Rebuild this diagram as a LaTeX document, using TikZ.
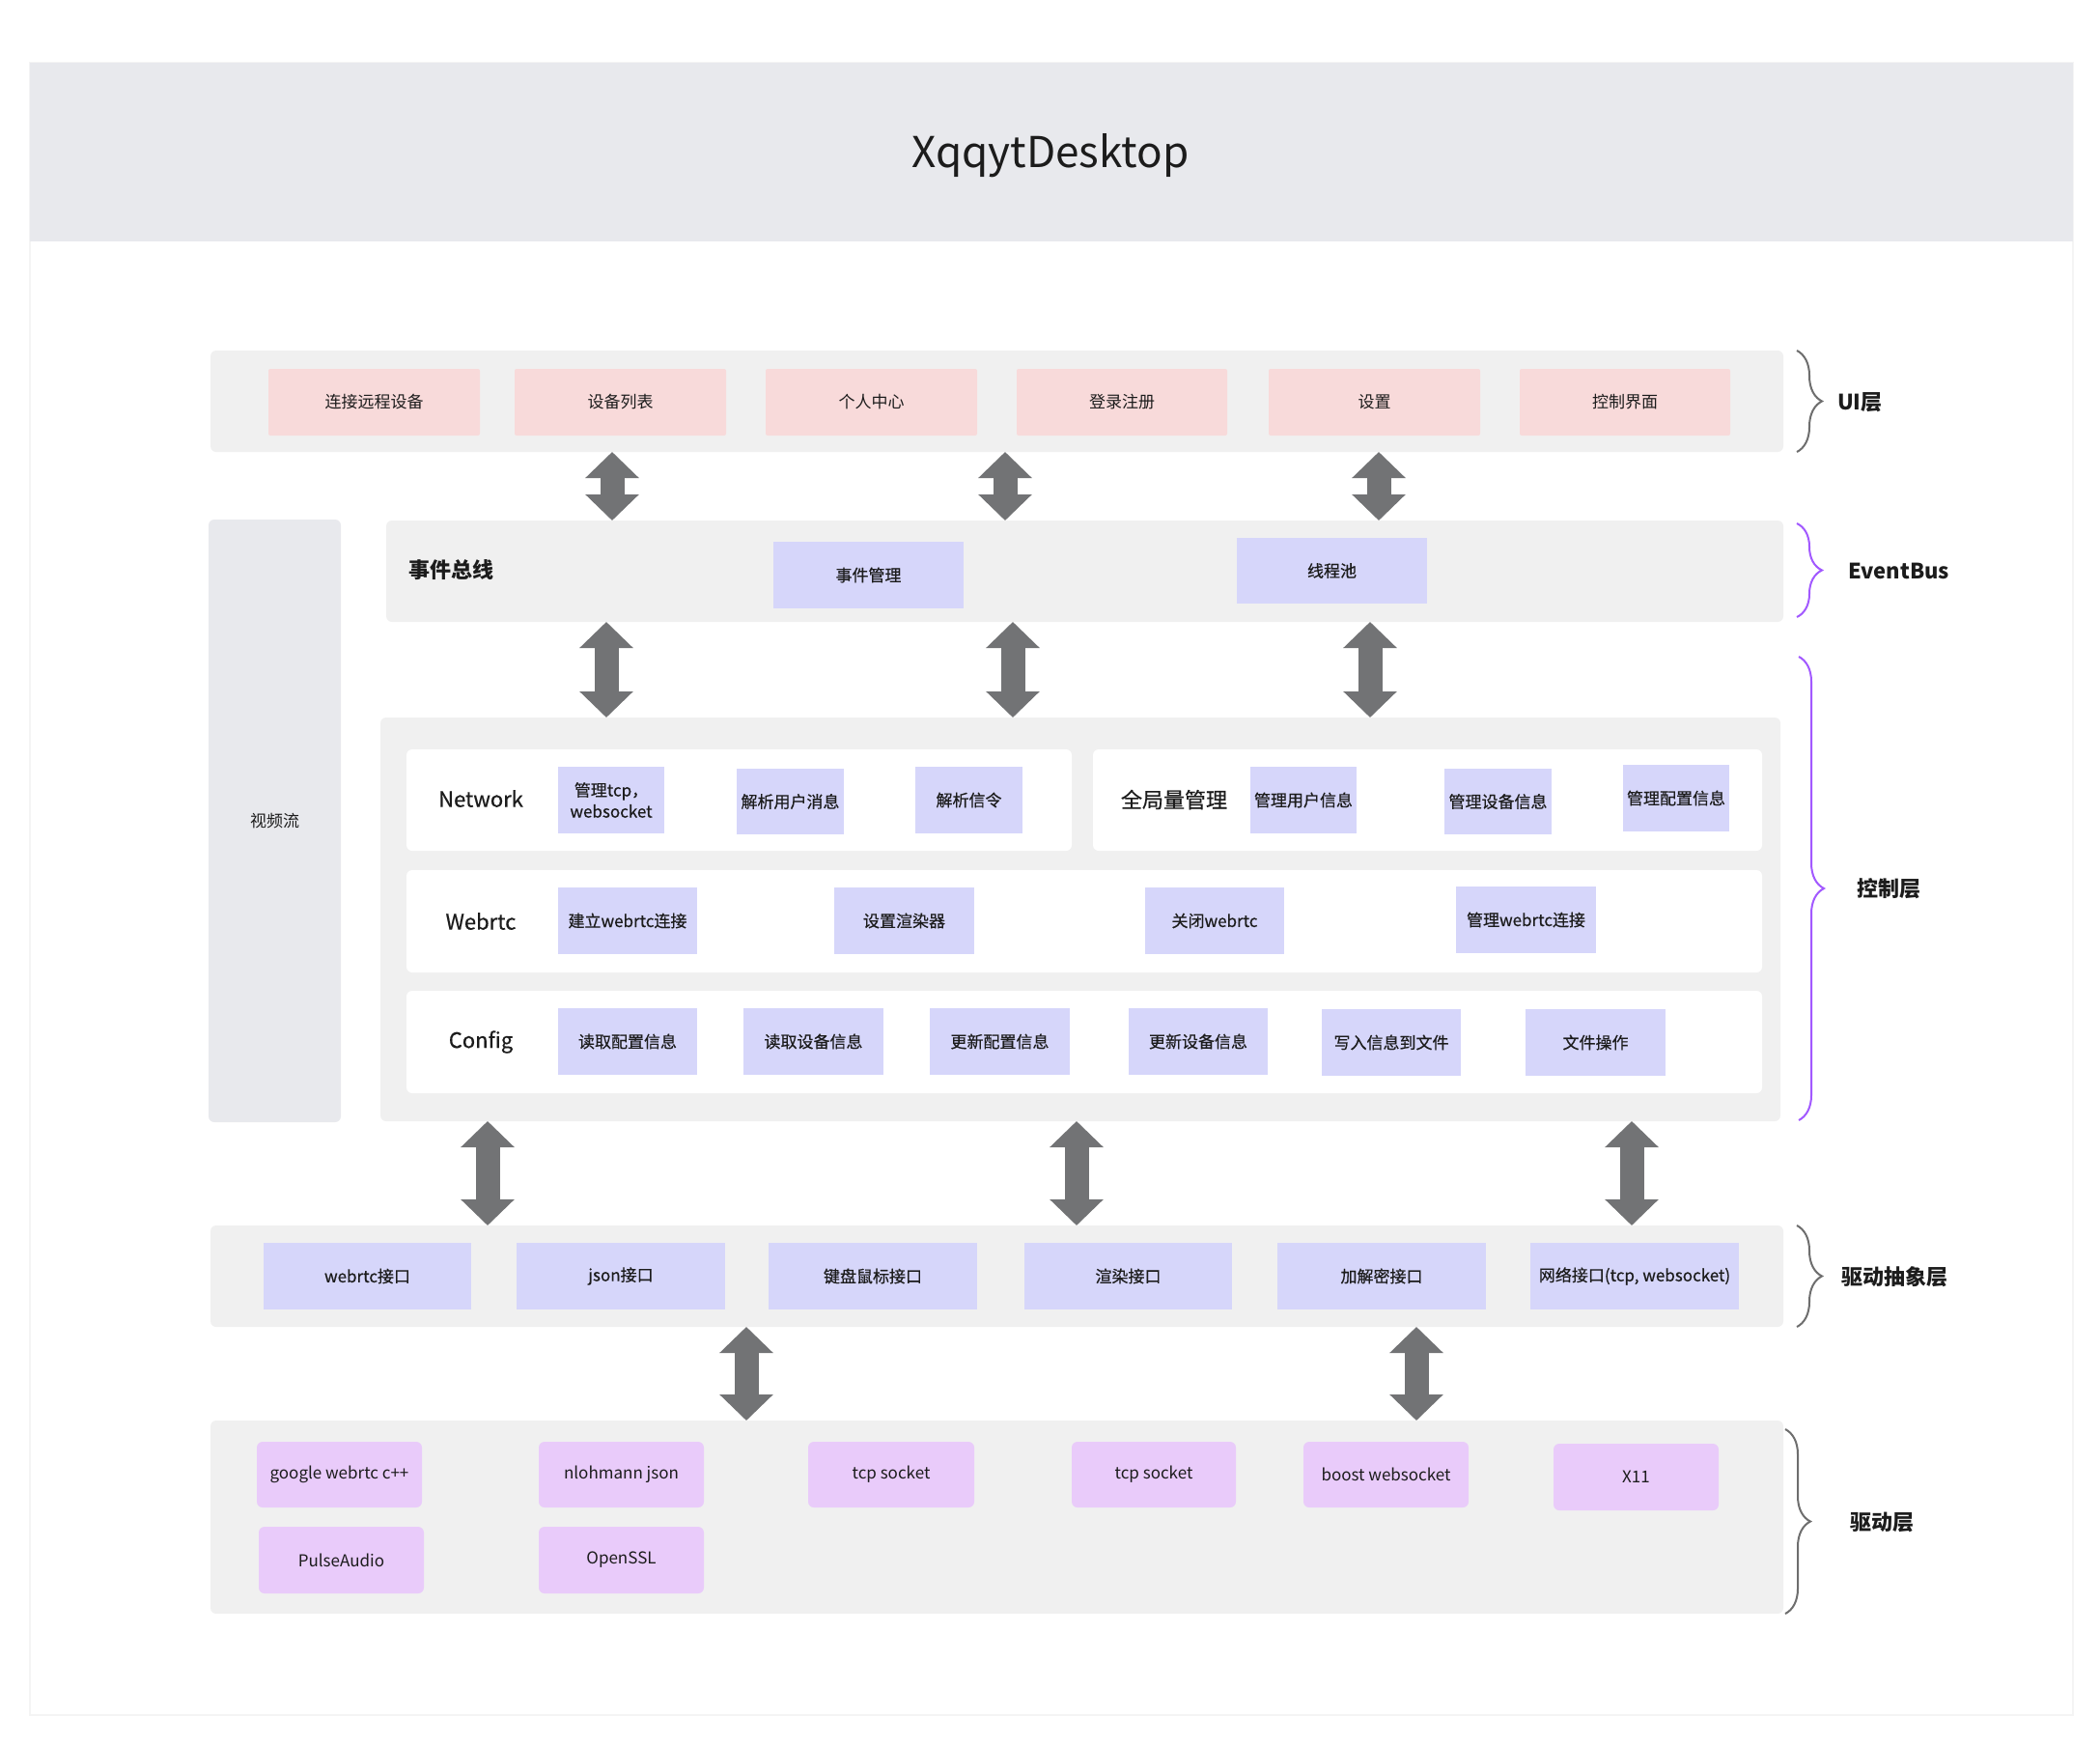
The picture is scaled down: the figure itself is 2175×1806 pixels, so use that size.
\documentclass[tikz,border=0pt]{standalone}
\usepackage{fontspec}
\setmainfont{Noto Sans CJK SC}
\newfontfamily\medfont[FakeBold=0.5]{Noto Sans CJK SC}
\usetikzlibrary{arrows.meta,decorations.pathreplacing}
\definecolor{titlebg}{HTML}{E8E9ED}
\definecolor{bandbg}{HTML}{F0F0F0}
\definecolor{pinkc}{HTML}{F8DADA}
\definecolor{lavc}{HTML}{D6D6FA}
\definecolor{drvc}{HTML}{E9CBFA}
\definecolor{arrc}{HTML}{727375}
\definecolor{purp}{HTML}{A259FF}
\definecolor{braceg}{HTML}{6E6E6E}
\definecolor{txt}{HTML}{1C1C1C}
\definecolor{frame}{HTML}{F4F4F4}
\newcommand\bx[7]{\node[#1, minimum width={#5pt-#3pt}, minimum height={#6pt-#4pt}] (#2) at ({(#3+#5)/2},{(#4+#6)/2}) {#7};}
\tikzset{
  base/.style={inner sep=0pt, outer sep=0pt, text=txt, align=center},
  band/.style={base, fill=bandbg, rounded corners=6pt},
  pinkbox/.style={base, fill=pinkc, rounded corners=2pt, font=\fontsize{17}{20}\selectfont},
  lavbox/.style={base, fill=lavc, font=\medfont\fontsize{17}{22}\selectfont},
  drvbox/.style={base, fill=drvc, rounded corners=6pt, font=\fontsize{17}{20}\selectfont},
  rowbox/.style={base, fill=white, rounded corners=6pt},
  rowlabel/.style={base, font=\medfont\fontsize{22}{26}\selectfont},
  layerlabel/.style={base, anchor=west, font=\bfseries\fontsize{22}{26}\selectfont},
  bigarrow/.style={draw=arrc, line width=25pt, {Triangle[width=54pt,length=27pt]}-{Triangle[width=54pt,length=27pt]}, arrc},
  brc/.style={decorate, decoration={brace, amplitude=26pt}, line width=2pt},
}
\begin{document}
\begin{tikzpicture}[x=1pt,y=-1pt]
\useasboundingbox (0,0) rectangle (2175,1806);
\fill[white] (0,0) rectangle (2175,1806);
\draw[frame, line width=1.5pt] (31,65) rectangle (2147,1776);
% title
\bx{base, fill=titlebg}{title}{31}{65}{2147}{250}{}
\node[base, font=\fontsize{44}{50}\selectfont] (titletext) at (1088,161) {XqqytDesktop};
% bands
\bx{band}{ui}{218}{363}{1847}{468}{}
\bx{band}{eb}{400}{539}{1847}{644}{}
\bx{band, fill=titlebg}{video}{216}{538}{353}{1162}{\fontsize{17}{20}\selectfont 视频流}
\bx{band}{ctrl}{394}{743}{1844}{1161}{}
\bx{band}{da}{218}{1269}{1847}{1374}{}
\bx{band}{drv}{218}{1471}{1847}{1671}{}
% UI layer
\bx{pinkbox}{u1}{278}{382}{497}{451}{连接远程设备}
\bx{pinkbox}{u2}{533}{382}{752}{451}{设备列表}
\bx{pinkbox}{u3}{793}{382}{1012}{451}{个人中心}
\bx{pinkbox}{u4}{1053}{382}{1271}{451}{登录注册}
\bx{pinkbox}{u5}{1314}{382}{1533}{451}{设置}
\bx{pinkbox}{u6}{1574}{382}{1792}{451}{控制界面}
% EventBus
\node[base, anchor=west, font=\bfseries\fontsize{22}{26}\selectfont] (ebl) at (423,590) {事件总线};
\bx{lavbox}{e1}{801}{561}{998}{630}{事件管理}
\bx{lavbox}{e2}{1281}{557}{1478}{625}{线程池}
% control rows
\bx{rowbox}{rnet}{421}{776}{1110}{881}{}
\bx{rowbox}{rglob}{1132}{776}{1825}{881}{}
\bx{rowbox}{rweb}{421}{901}{1825}{1007}{}
\bx{rowbox}{rcfg}{421}{1026}{1825}{1132}{}
\node[rowlabel] (lnet) at (498,827) {Network};
\node[rowlabel] (lweb) at (498,954) {Webrtc};
\node[rowlabel] (lcfg) at (498,1079) {Config};
\node[rowlabel] (lglob) at (1216,828) {全局量管理};
\bx{lavbox}{n1}{578}{794}{688}{863}{管理tcp，\\websocket}
\bx{lavbox}{n2}{763}{796}{874}{864}{解析用户消息}
\bx{lavbox}{n3}{948}{794}{1059}{863}{解析信令}
\bx{lavbox}{g1}{1295}{794}{1405}{863}{管理用户信息}
\bx{lavbox}{g2}{1496}{796}{1607}{864}{管理设备信息}
\bx{lavbox}{g3}{1681}{792}{1791}{861}{管理配置信息}
\bx{lavbox}{w1}{578}{919}{722}{988}{建立webrtc连接}
\bx{lavbox}{w2}{864}{919}{1009}{988}{设置渲染器}
\bx{lavbox}{w3}{1186}{919}{1330}{988}{关闭webrtc}
\bx{lavbox}{w4}{1508}{918}{1653}{987}{管理webrtc连接}
\bx{lavbox}{c1}{578}{1044}{722}{1113}{读取配置信息}
\bx{lavbox}{c2}{770}{1044}{915}{1113}{读取设备信息}
\bx{lavbox}{c3}{963}{1044}{1108}{1113}{更新配置信息}
\bx{lavbox}{c4}{1169}{1044}{1313}{1113}{更新设备信息}
\bx{lavbox}{c5}{1369}{1045}{1513}{1114}{写入信息到文件}
\bx{lavbox}{c6}{1580}{1045}{1725}{1114}{文件操作}
% driver abstraction
\bx{lavbox}{d1}{273}{1287}{488}{1356}{webrtc接口}
\bx{lavbox}{d2}{535}{1287}{751}{1356}{json接口}
\bx{lavbox}{d3}{796}{1287}{1012}{1356}{键盘鼠标接口}
\bx{lavbox}{d4}{1061}{1287}{1276}{1356}{渲染接口}
\bx{lavbox}{d5}{1323}{1287}{1539}{1356}{加解密接口}
\bx{lavbox}{d6}{1585}{1287}{1801}{1356}{网络接口(tcp, websocket)}
% driver
\bx{drvbox}{k1}{266}{1493}{437}{1561}{google webrtc c++}
\bx{drvbox}{k2}{558}{1493}{729}{1561}{nlohmann json}
\bx{drvbox}{k3}{837}{1493}{1009}{1561}{tcp socket}
\bx{drvbox}{k4}{1110}{1493}{1280}{1561}{tcp socket}
\bx{drvbox}{k5}{1350}{1493}{1521}{1561}{boost websocket}
\bx{drvbox}{k6}{1609}{1495}{1780}{1564}{X11}
\bx{drvbox}{k7}{268}{1581}{439}{1650}{PulseAudio}
\bx{drvbox}{k8}{558}{1581}{729}{1650}{OpenSSL}
% arrows
\foreach \xx in {634,1041,1428} {\draw[bigarrow] (\xx,0 |- ui.south) -- (\xx,0 |- eb.north);}
\foreach \xx in {628,1049,1419} {\draw[bigarrow] (\xx,0 |- eb.south) -- (\xx,0 |- ctrl.north);}
\foreach \xx in {505,1115,1690} {\draw[bigarrow] (\xx,0 |- ctrl.south) -- (\xx,0 |- da.north);}
\foreach \xx in {773,1467} {\draw[bigarrow] (\xx,0 |- da.south) -- (\xx,0 |- drv.north);}
% braces
\draw[brc, braceg] (1861,0 |- ui.north) -- (1861,0 |- ui.south);
\draw[brc, purp] (1861,542) -- (1861,639);
\draw[brc, purp] (1863,680) -- (1863,1160);
\draw[brc, braceg] (1861,0 |- da.north) -- (1861,0 |- da.south);
\draw[brc, braceg] (1849,1480) -- (1849,1671);
% layer labels
\node[layerlabel] (lui) at (1903,417) {UI层};
\node[layerlabel] (leb) at (1914,591) {EventBus};
\node[layerlabel] (lctrl) at (1923,920) {控制层};
\node[layerlabel] (lda) at (1907,1322) {驱动抽象层};
\node[layerlabel] (ldrv) at (1916,1576) {驱动层};
\end{tikzpicture}
\end{document}
